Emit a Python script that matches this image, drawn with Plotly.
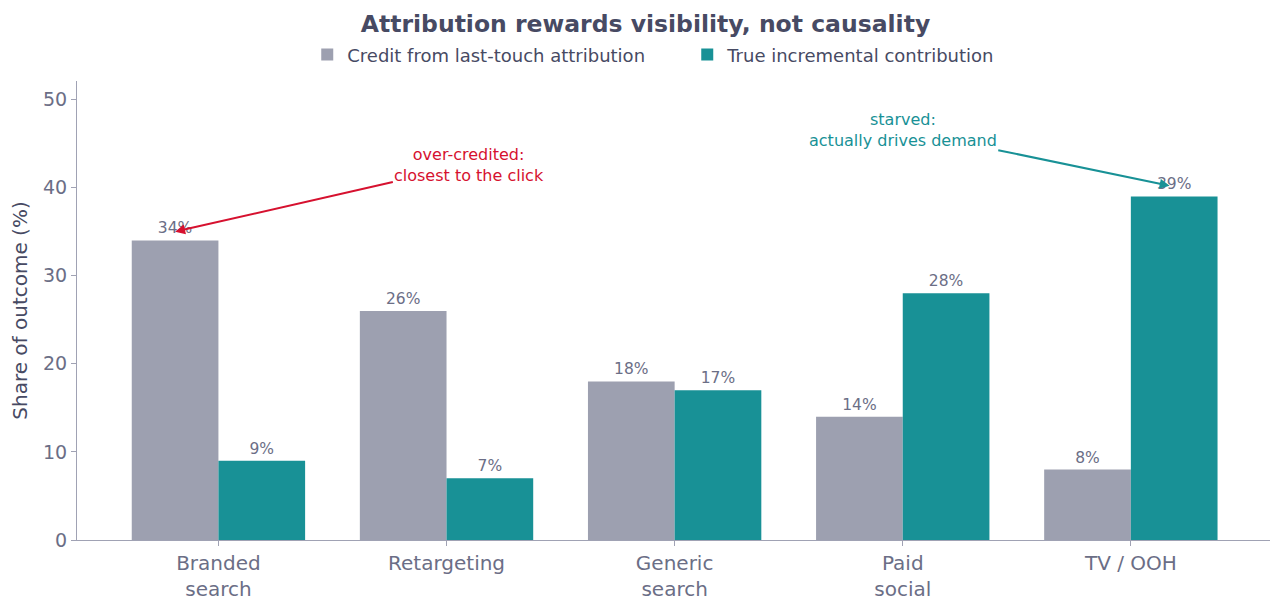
import plotly.graph_objects as go

# channels and their shares (%)
channels = ['Branded<br>search', 'Retargeting', 'Generic<br>search', 'Paid<br>social', 'TV / OOH']
last_touch = [34, 26, 18, 14, 8]
incremental = [9, 7, 17, 28, 39]

gris = '#9da0b0'
verde = '#189196'
texto = '#6b6e86'
titulo = '#474a63'

fig = go.Figure()
fig.add_trace(go.Bar(x=channels, y=last_touch, name='Credit from last-touch attribution',
                     marker=dict(color=gris, line=dict(width=0)), text=[f'{v}%' for v in last_touch],
                     textposition='outside', textfont=dict(size=15.5, color=texto),
                     cliponaxis=False))
fig.add_trace(go.Bar(x=channels, y=incremental, name='True incremental contribution',
                     marker=dict(color=verde, line=dict(width=0)), text=[f'{v}%' for v in incremental],
                     textposition='outside', textfont=dict(size=15.5, color=texto),
                     cliponaxis=False))

'''flechas de las anotaciones'''
fig.add_annotation(x=-0.19, y=35, xref='x', yref='y', ax=1.1, ay=42.6, axref='x', ayref='y',
                   text='over-credited:<br>closest to the click', showarrow=True,
                   arrowhead=2, arrowsize=1, arrowwidth=2, arrowcolor='#d6112f',
                   font=dict(size=16, color='#d6112f'))
fig.add_annotation(x=4.17, y=40.2, xref='x', yref='y', ax=3.0, ay=46.5, axref='x', ayref='y',
                   text='starved:<br>actually drives demand', showarrow=True,
                   arrowhead=2, arrowsize=1, arrowwidth=2, arrowcolor=verde,
                   font=dict(size=16, color=verde))

fig.update_layout(
    width=1275, height=599,
    barmode='group', bargap=0.24, bargroupgap=0,
    plot_bgcolor='white', paper_bgcolor='white',
    font=dict(family='DejaVu Sans', color=texto),
    title=dict(text='<b>Attribution rewards visibility, not causality</b>', x=0.5, xanchor='center',
               y=0.973, yanchor='middle', font=dict(size=23.5, color=titulo)),
    legend=dict(orientation='h', x=0.193, xanchor='left', y=1.057, yanchor='middle',
                font=dict(size=18, color=titulo), entrywidth=335, entrywidthmode='pixels'),
    margin=dict(l=69, r=13, t=73, b=67),
    xaxis=dict(range=[-0.62, 4.61], showline=True, linecolor='#a0a2b4', linewidth=1,
               ticks='outside', tickcolor='#a0a2b4', tickfont=dict(size=20, color=texto),
               automargin=False),
    yaxis=dict(range=[0, 52.1], showline=True, linecolor='#a0a2b4', linewidth=1,
               showgrid=False, zeroline=False, ticks='outside', tickcolor='#a0a2b4',
               dtick=10, tickfont=dict(size=19, color=texto), automargin=False,
               title=dict(text='Share of outcome (%)', font=dict(size=20, color=titulo), standoff=10)),
)

fig.write_html('out.html')
